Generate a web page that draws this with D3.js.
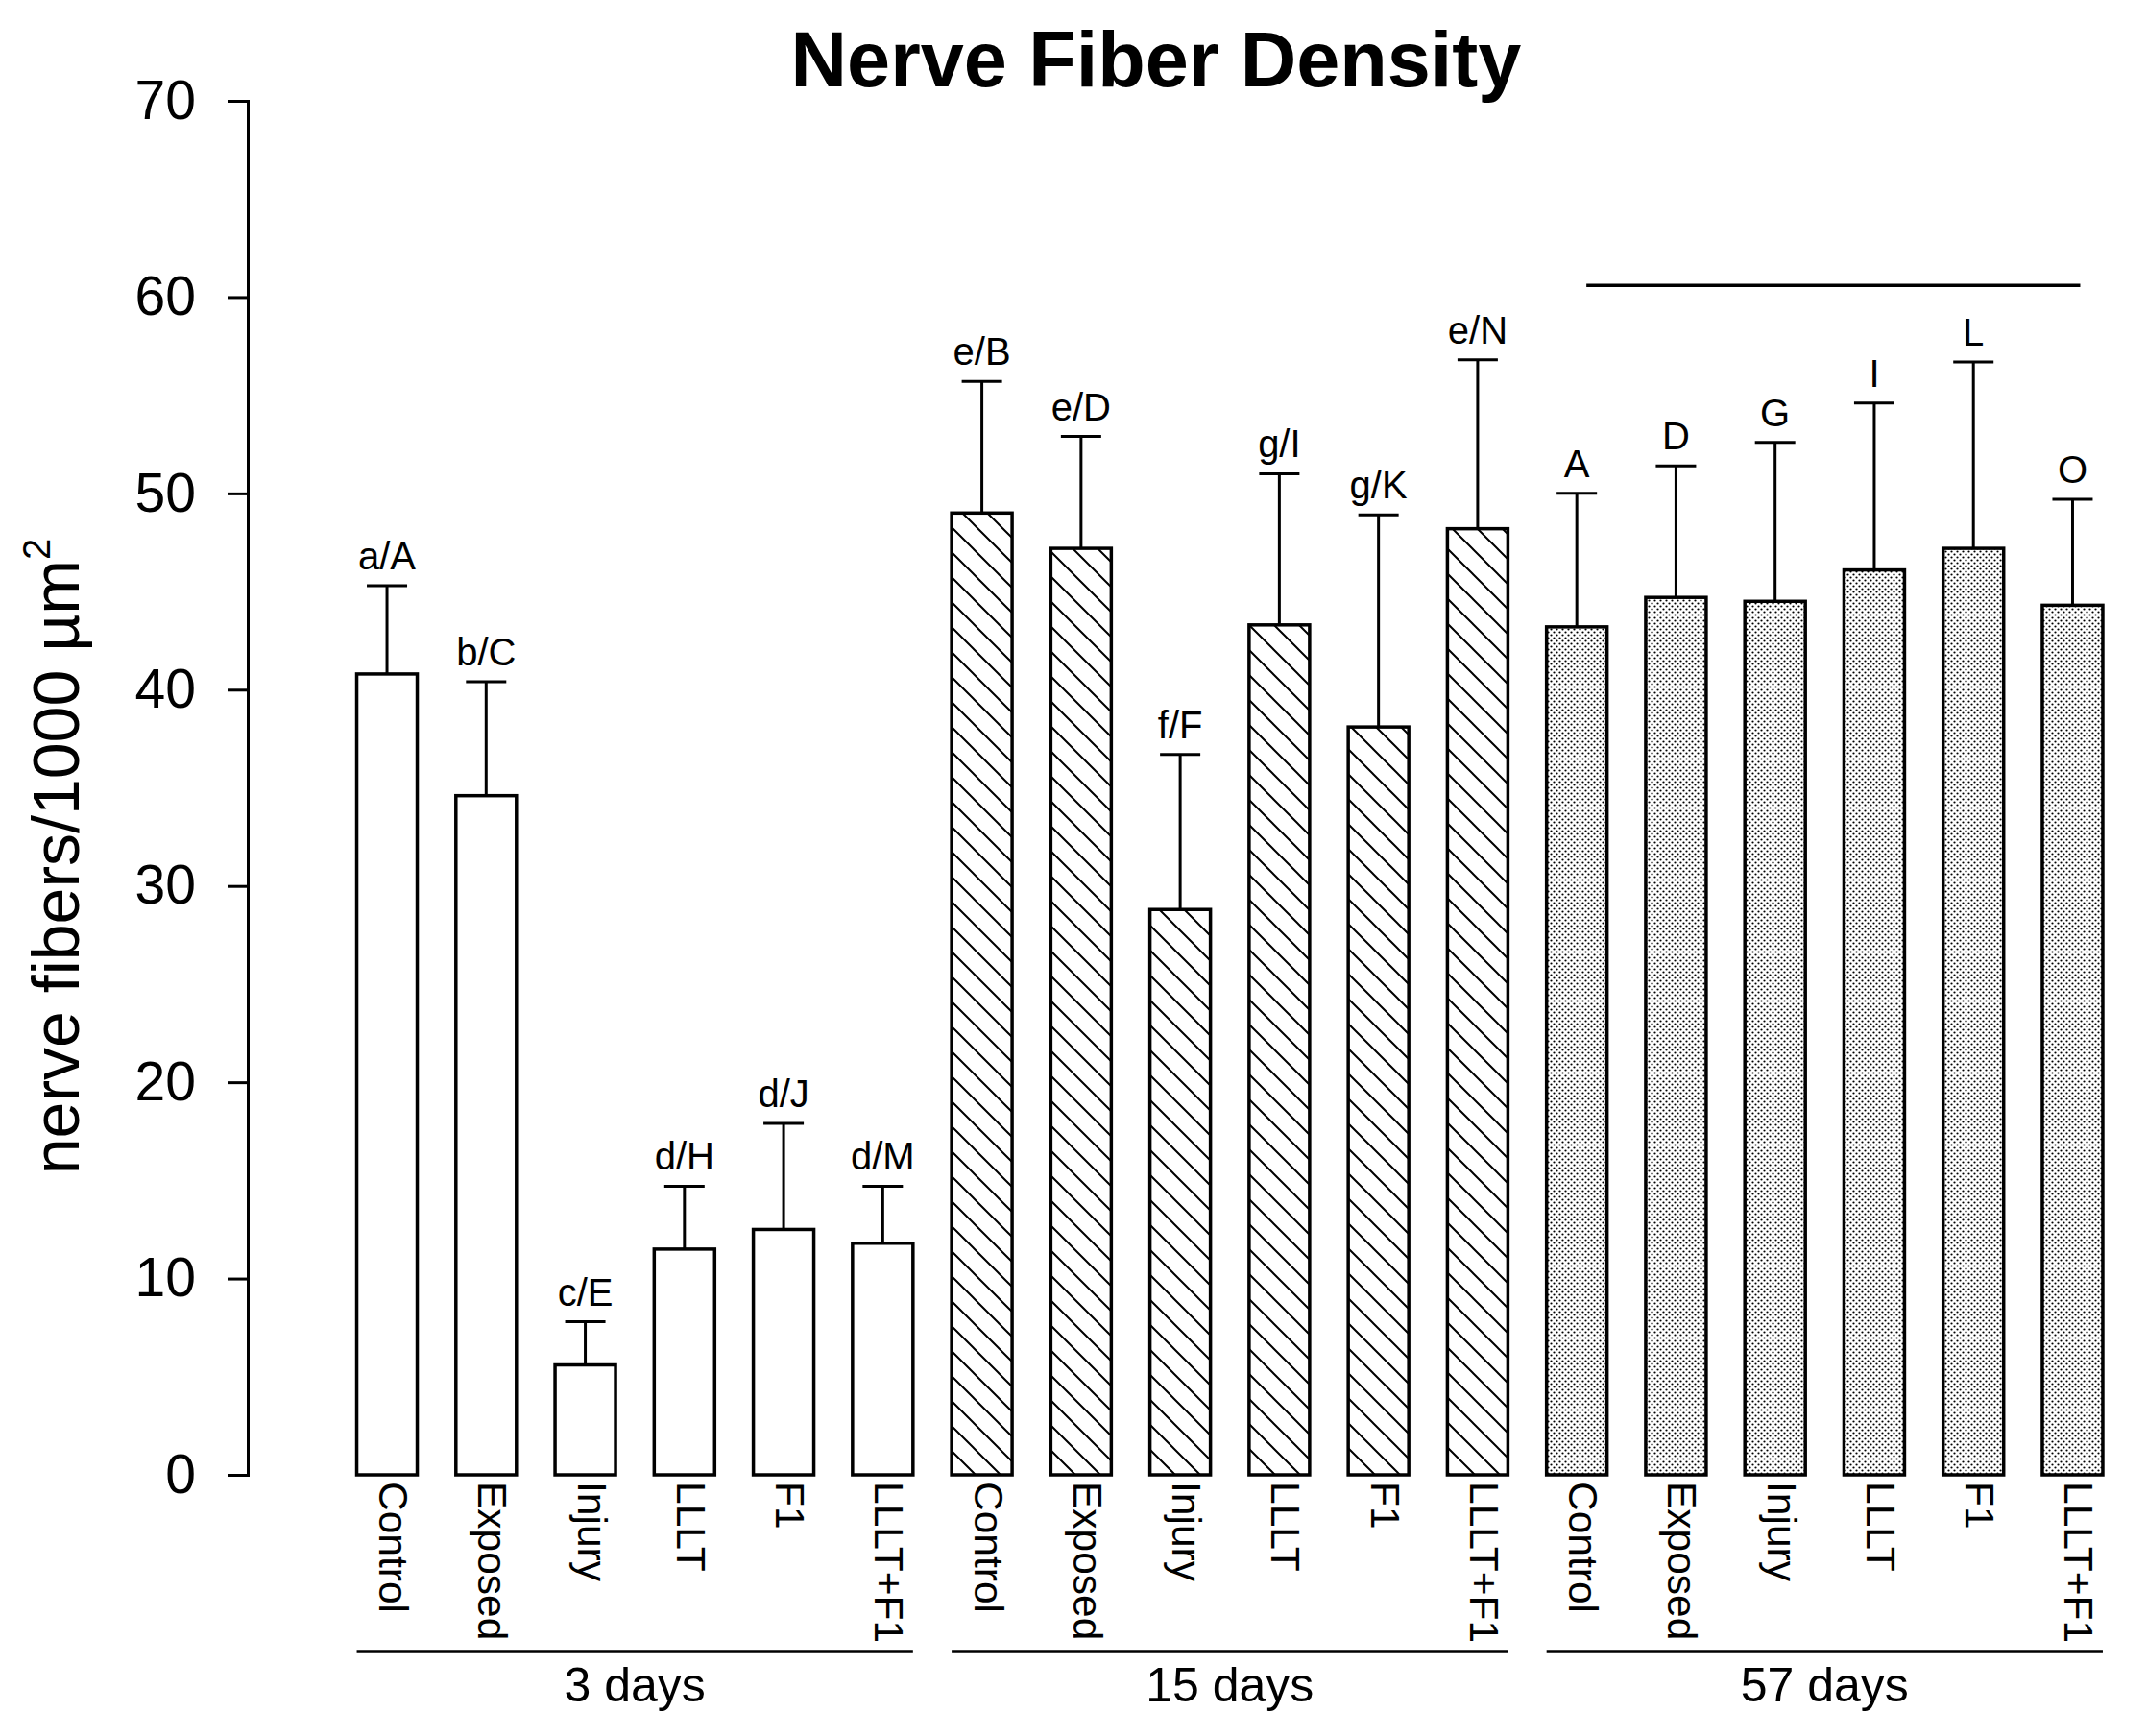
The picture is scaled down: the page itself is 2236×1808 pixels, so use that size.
<!DOCTYPE html>
<html>
<head>
<meta charset="utf-8">
<script src="https://cdn.jsdelivr.net/npm/d3@7"></script>
<style>
  body { margin: 0; background: #fff; }
  text { font-family: "Liberation Sans", Arial, sans-serif; fill: #000; }
</style>
</head>
<body>
<script>
// data
var groups = ['3 days', '15 days', '57 days']
var treatments = ['Control', 'Exposed', 'Injury', 'LLLT', 'F1', 'LLLT+F1']

var means3  = [40.8, 34.6, 5.6, 11.5, 12.5, 11.8]
var means15 = [49.0, 47.2, 28.8, 43.3, 38.1, 48.2]
var means57 = [43.2, 44.7, 44.5, 46.1, 47.2, 44.3]

var errs3  = [4.5, 5.8, 2.2, 3.2, 5.4, 2.9]
var errs15 = [6.7, 5.7, 7.9, 7.7, 10.8, 8.6]
var errs57 = [6.8, 6.7, 8.1, 8.5, 9.5, 5.4]

var letters3  = ['a/A', 'b/C', 'c/E', 'd/H', 'd/J', 'd/M']
var letters15 = ['e/B', 'e/D', 'f/F', 'g/I', 'g/K', 'e/N']
var letters57 = ['A', 'D', 'G', 'I', 'L', 'O']

var yTicks = [0, 10, 20, 30, 40, 50, 60, 70]

// bracket line over the 57 days group
var sigGroup = 2, sigFrom = 0, sigTo = 5, sigValue = 60.6

var means = [means3, means15, means57]
var errs = [errs3, errs15, errs57]
var letters = [letters3, letters15, letters57]
var fills = ['#fff', 'url(#hatch)', 'url(#dots)']

var width = 2236, height = 1808

var rows = []
groups.forEach(function(g, gi) {
  treatments.forEach(function(t, ti) {
    rows.push({ gi: gi, ti: ti, name: t, mean: means[gi][ti], err: errs[gi][ti], letter: letters[gi][ti] })
  })
})

var svg = d3.select('body').append('svg')
  .attr('width', width)
  .attr('height', height)

var defs = svg.append('defs')
var hatch = defs.append('pattern')
  .attr('id', 'hatch')
  .attr('patternUnits', 'userSpaceOnUse')
  .attr('width', 26).attr('height', 26)
hatch.append('rect').attr('width', 26).attr('height', 26).attr('fill', '#fff')
hatch.append('path')
  .attr('d', 'M0,0L26,26M-3,23L3,29M23,-3L29,3')
  .attr('stroke', '#000').attr('stroke-width', 2)

var dots = defs.append('pattern')
  .attr('id', 'dots')
  .attr('patternUnits', 'userSpaceOnUse')
  .attr('width', 6).attr('height', 6)
dots.append('rect').attr('width', 6).attr('height', 6).attr('fill', '#fff')
dots.append('circle').attr('cx', 1.5).attr('cy', 1.5).attr('r', 1.1).attr('fill', '#000')
dots.append('circle').attr('cx', 4.5).attr('cy', 4.5).attr('r', 1.1).attr('fill', '#000')

var x = d3.scaleBand()
  .domain(d3.range(rows.length))
  .range([351.4, 2210.1])
  .paddingInner(0.39)
  .paddingOuter(0.195)
var bw = x.bandwidth()

var y = d3.scaleLinear().domain([0, 70]).range([1536, 105])

// title
svg.append('text')
  .attr('x', 1204).attr('y', 90)
  .attr('text-anchor', 'middle')
  .style('font-weight', 'bold')
  .style('font-size', '81px')
  .text('Nerve Fiber Density')

// y axis
var yAxis = svg.append('g')
  .attr('transform', 'translate(258,0)')
  .call(d3.axisLeft(y).tickValues(yTicks).tickSize(21).tickPadding(33))
yAxis.selectAll('path, line').attr('stroke', '#000').attr('stroke-width', 3)
yAxis.selectAll('text')
  .style('font-family', '"Liberation Sans", Arial, sans-serif')
  .style('font-size', '57px')
  .attr('fill', '#000')

var ylab = svg.append('text')
  .attr('transform', 'translate(82,892) rotate(-90)')
  .attr('text-anchor', 'middle')
  .style('font-size', '68px')
ylab.append('tspan').text('nerve fibers/1000 \u00b5m')
ylab.append('tspan').attr('dy', -30).style('font-size', '40px').text('2')

// bars
svg.selectAll('rect.bar')
  .data(rows)
  .enter().append('rect')
  .attr('class', 'bar')
  .attr('x', function(d, i) { return x(i) })
  .attr('y', function(d) { return y(d.mean) })
  .attr('width', bw)
  .attr('height', function(d) { return y(0) - y(d.mean) })
  .attr('fill', function(d) { return fills[d.gi] })
  .attr('stroke', '#000')
  .attr('stroke-width', 3.5)

// error bars (upper only)
var eb = svg.selectAll('g.err')
  .data(rows)
  .enter().append('g')
  .attr('class', 'err')
  .attr('stroke', '#000')
  .attr('stroke-width', 3)
eb.append('line')
  .attr('x1', function(d, i) { return x(i) + bw / 2 })
  .attr('x2', function(d, i) { return x(i) + bw / 2 })
  .attr('y1', function(d) { return y(d.mean) })
  .attr('y2', function(d) { return y(d.mean + d.err) })
eb.append('line')
  .attr('x1', function(d, i) { return x(i) + bw / 2 - 21 })
  .attr('x2', function(d, i) { return x(i) + bw / 2 + 21 })
  .attr('y1', function(d) { return y(d.mean + d.err) })
  .attr('y2', function(d) { return y(d.mean + d.err) })

// significance letters
svg.selectAll('text.letter')
  .data(rows)
  .enter().append('text')
  .attr('class', 'letter')
  .attr('x', function(d, i) { return x(i) + bw / 2 })
  .attr('y', function(d) { return y(d.mean + d.err) - 17 })
  .attr('text-anchor', 'middle')
  .style('font-size', '40px')
  .text(function(d) { return d.letter })

// category labels, rotated
svg.selectAll('text.cat')
  .data(rows)
  .enter().append('text')
  .attr('class', 'cat')
  .attr('transform', function(d, i) { return 'translate(' + (x(i) + bw / 2) + ',1543) rotate(90)' })
  .attr('y', 8)
  .style('font-size', '42.5px')
  .text(function(d) { return d.name })

// group lines and labels
var n = treatments.length
groups.forEach(function(g, gi) {
  var x0 = x(gi * n), x1 = x(gi * n + n - 1) + bw
  svg.append('line')
    .attr('x1', x0).attr('x2', x1)
    .attr('y1', 1720).attr('y2', 1720)
    .attr('stroke', '#000').attr('stroke-width', 3.5)
  svg.append('text')
    .attr('x', (x0 + x1) / 2).attr('y', 1772)
    .attr('text-anchor', 'middle')
    .style('font-size', '50px')
    .text(g)
})

// bracket over 57 days
svg.append('line')
  .attr('x1', x(sigGroup * n + sigFrom) + bw / 2 + 10)
  .attr('x2', x(sigGroup * n + sigTo) + bw / 2 + 8)
  .attr('y1', y(sigValue)).attr('y2', y(sigValue))
  .attr('stroke', '#000').attr('stroke-width', 3.5)
</script>
</body>
</html>
